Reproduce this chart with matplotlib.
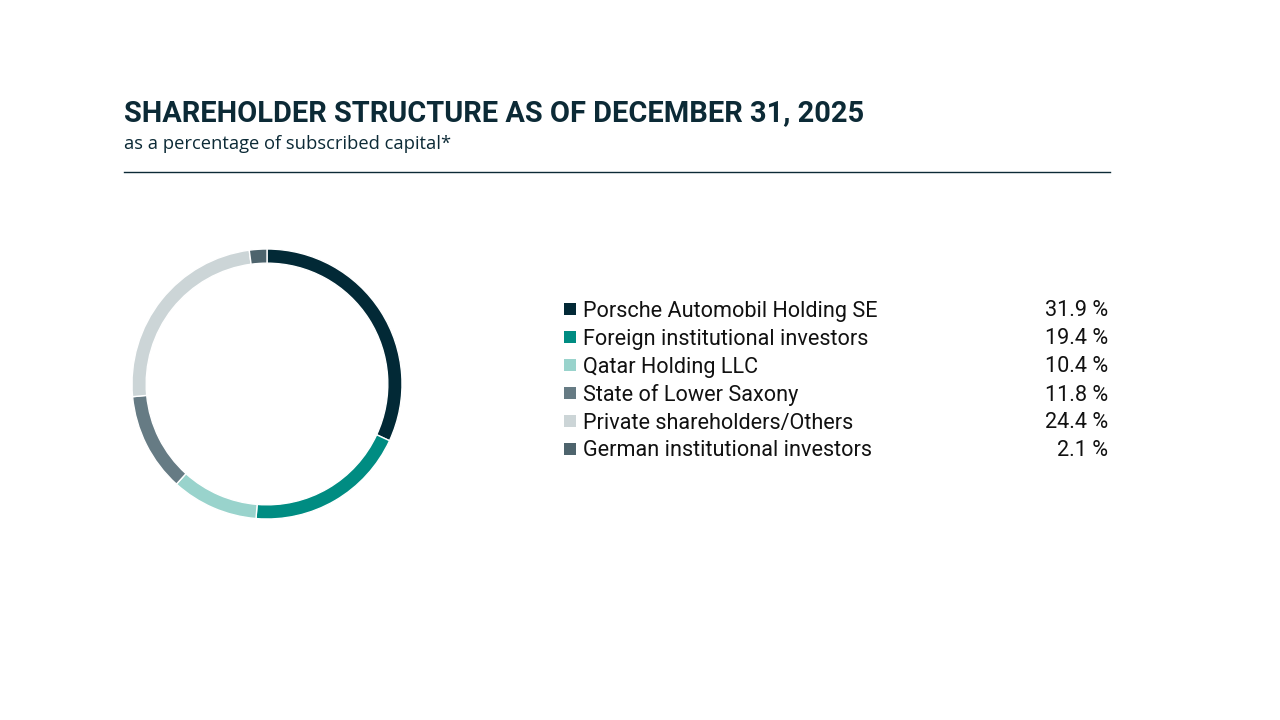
import matplotlib
matplotlib.use("Agg")
import matplotlib.pyplot as plt
from matplotlib.patches import Rectangle

labels = ["Porsche Automobil Holding SE", "Foreign institutional investors", "Qatar Holding LLC",
          "State of Lower Saxony", "Private shareholders/Others", "German institutional investors"]
values = [31.9, 19.4, 10.4, 11.8, 24.4, 2.1]
value_labels = ["31.9 %", "19.4 %", "10.4 %", "11.8 %", "24.4 %", "2.1 %"]
colors = ["#022936", "#008c82", "#99d3cc", "#667b84", "#ccd5d7", "#4e646d"]

W, H = 1280, 720
fig = plt.figure(figsize=(12.8, 7.2), dpi=100)
fig.patch.set_facecolor("white")

def fx(x):
    return x / W

def fy(y):
    return 1 - y / H

dark = "#0c2a36"
fig.text(fx(124), fy(113), "SHAREHOLDER STRUCTURE AS OF DECEMBER 31, 2025", fontsize=20.9,
         fontweight="bold", color=dark, family="Roboto", va="center", ha="left")
fig.text(fx(124), fy(144), "as a percentage of subscribed capital*", fontsize=13.2,
         color=dark, family="Open Sans", va="center", ha="left")
fig.add_artist(plt.Line2D([fx(124), fx(1110)], [fy(172), fy(172)], color=dark, lw=1.0,
                          transform=fig.transFigure))

# donut
ax = fig.add_axes([fx(132), fy(519), 270 / W, 270 / H])
ax.pie(values, colors=colors, startangle=90, counterclock=False, radius=1.0,
       wedgeprops=dict(width=0.105, edgecolor="white", linewidth=1.0))
ax.set_xlim(-1.0, 1.0)
ax.set_ylim(-1.0, 1.0)
ax.set_aspect("equal")
ax.axis("off")

# legend
y0, dy = 309, 28
for i, (lab, val, c) in enumerate(zip(labels, value_labels, colors)):
    y = y0 + i * dy
    fig.add_artist(Rectangle((fx(564), fy(y + 6)), 12 / W, 12 / H, transform=fig.transFigure,
                             facecolor=c, edgecolor="none"))
    fig.text(fx(583), fy(y + 2), lab, fontsize=15.6, color="#111111", family="Roboto",
             va="center", ha="left")
    fig.text(fx(1108), fy(y + 2), val, fontsize=15.6, color="#111111", family="Roboto",
             va="center", ha="right")

fig.savefig("out.png", dpi=100, facecolor="white")
